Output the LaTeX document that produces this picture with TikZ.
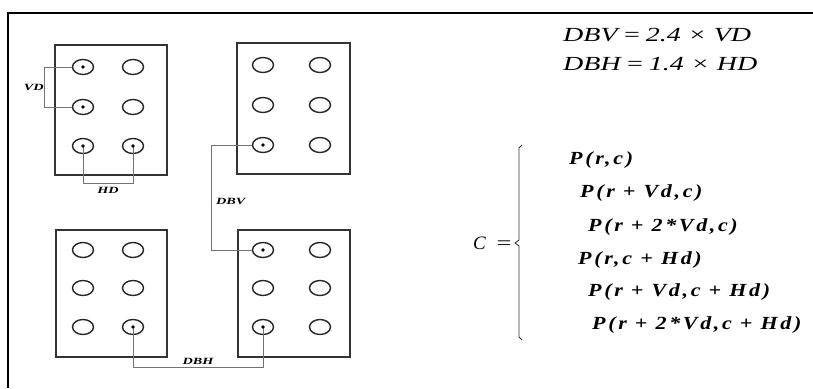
\documentclass[tikz,border=0pt]{standalone}
\usepackage{fontspec}
\usepackage{graphicx}
\setmainfont{Liberation Serif}
\newfontfamily\pfont[LetterSpace=12]{Liberation Serif}
\usetikzlibrary{shapes.geometric}
\newcommand{\wideP}[1]{\scalebox{1.19}[1]{#1}}
\newcommand{\wideE}[1]{\scalebox{1.4}[1]{#1}}
\newcommand{\wideL}[1]{\scalebox{1.5}[1]{#1}}
\begin{document}
\begin{tikzpicture}[x=1pt,y=-1pt,
  frame/.style={line width=1.6pt,black},
  board/.style={draw=black!80,line width=1.4pt},
  hole/.style={ellipse,draw=black!85,line width=1.4pt,minimum width=21pt,minimum height=15pt,inner sep=0pt},
  wire/.style={draw=black!55,line width=1pt},
  pin/.style={circle,fill=black,inner sep=0pt,minimum size=3.8pt},
  lab/.style={font=\fontsize{9.5}{10}\selectfont\bfseries\itshape,inner sep=1pt},
  eq/.style={font=\fontsize{20}{22}\selectfont\itshape,anchor=west,inner sep=0pt},
  pl/.style={font=\fontsize{18.5}{20}\selectfont\pfont\bfseries\itshape,anchor=west,inner sep=0pt}]
\useasboundingbox (0,0) rectangle (813,388);
\fill[white] (0,0) rectangle (813,388);
% outer frame
\draw[frame] (8,388) -- (8,13) -- (813,13);
% boards
\draw[board] (55,45) rectangle (167,175);
\draw[board] (237,43) rectangle (350,174);
\draw[board] (56,230) rectangle (167,357);
\draw[board] (238,230) rectangle (350,357);
% holes
\foreach \r/\y in {1/67,2/107,3/146}{
  \node[hole] (A\r1) at (83,\y) {};
  \node[hole] (A\r2) at (133,\y) {};
}
\foreach \r/\y in {1/65,2/105,3/145}{
  \node[hole] (B\r1) at (263,\y) {};
  \node[hole] (B\r2) at (320,\y) {};
}
\foreach \r/\y in {1/250,2/288,3/327}{
  \node[hole] (C\r1) at (83,\y) {};
  \node[hole] (C\r2) at (133,\y) {};
  \node[hole] (D\r1) at (263,\y) {};
  \node[hole] (D\r2) at (320,\y) {};
}
% connectors
\draw[wire] (A11.west) -- ++(-27,0) |- (A21.west) coordinate[pos=0.25] (vdm);
\node[lab,anchor=east] (vd) at (vdm) {\wideL{VD}};
\draw[wire] (A31.center) -- ++(0,37) -| (A32.center) coordinate[pos=0.25] (hdm);
\node[lab,anchor=north] (hd) at ([yshift=-3pt]hdm) {\wideL{HD}};
\draw[wire] (B31.west) -- ++(-40,0) |- (D11.west) coordinate[pos=0.25] (dbvm);
\node[lab,anchor=west] (dbv) at ([xshift=3pt,yshift=-4pt]dbvm) {\wideL{DBV}};
\draw[wire] (C32.center) -- ++(0,40) -| (D31.center) coordinate[pos=0.25] (dbhm);
\node[lab,anchor=south] (dbh) at ([yshift=1pt]dbhm) {\wideL{DBH}};
\foreach \n in {A11,A21,A31,A32,B31,D11,D31,C32}{
  \node[pin] at (\n.center) {};
}
% formulas
\node[eq] (e1) at (563,35) {\wideE{DBV\,=\,2.4 × VD}};
\node[eq] (e2) at (563,64) {\wideE{DBH\,=\,1.4 × HD}};
\node[font=\fontsize{19}{20}\selectfont\itshape,anchor=east,inner sep=0pt] (ceq) at (513,243) {C\hspace{9pt}\scalebox{1.4}[1]{=}};
\draw[black!80,line width=0.9pt] (522,145) -- (519,148) -- (519,240) -- (515,243) -- (519,246) -- (519,337) -- (522,340);
\node[pl] (p1) at (569,160) {\wideP{P(r,c)}};
\node[pl] (p2) at (580,193) {\wideP{P(r + Vd,c)}};
\node[pl] (p3) at (588,227) {\wideP{P(r + 2*Vd,c)}};
\node[pl] (p4) at (578,260) {\wideP{P(r,c + Hd)}};
\node[pl] (p5) at (588,292) {\wideP{P(r + Vd,c + Hd)}};
\node[pl] (p6) at (592,325) {\wideP{P(r + 2*Vd,c + Hd)}};
\end{tikzpicture}
\end{document}
